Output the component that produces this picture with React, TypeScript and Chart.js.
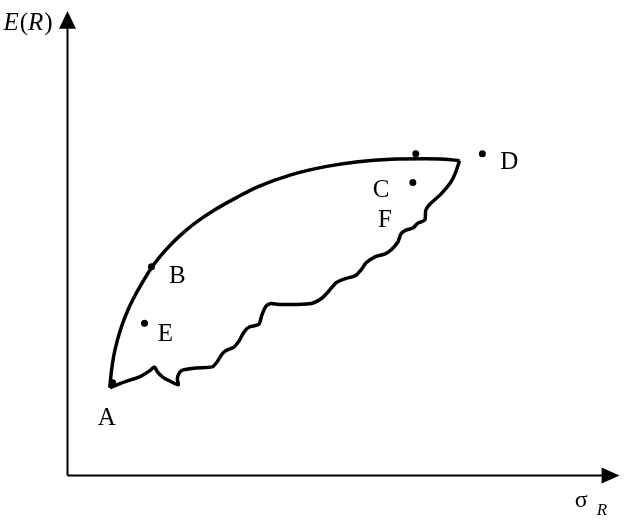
import React, { useEffect, useRef } from "react";
import { Chart, registerables } from "chart.js";

Chart.register(...registerables);

// Coordinates in chart units (sigma_R to the right, E(R) upward)
const upperX = [42.5, 44, 46.5, 50.5, 55.5, 61.5, 68.5, 76.5, 84.5, 94.5, 106.5, 119.5, 132.5, 147.5, 170.5, 192.5, 225.5, 259.5, 292.5, 325.5, 359.5, 379.5, 394.5];
const upperY = [88.5, 103.5, 120.5, 137.5, 153.5, 168.5, 182.5, 196.5, 209.5, 222.5, 235.5, 247.5, 257.5, 267.5, 280.5, 291.5, 303.5, 311.5, 316.5, 319, 319.5, 319, 317.5];

const lowerX = [42.5, 57.5, 72.5, 82.5, 87.5, 90.5, 95.5, 104.5, 111.5, 110.5, 112.5, 116.5, 129.5, 145.5, 150.5, 155.5, 160.5, 167.5, 172.5, 177.5, 182.5, 192.5, 195.5, 199.5, 204.5, 212.5, 227.5, 245.5, 255.5, 262.5, 270.5, 279.5, 289.5, 295.5, 300.5, 309.5, 319.5, 325.5, 332.5, 335.5, 340.5, 347.5, 352.5, 359.5, 360.5, 364.5, 375.5, 385.5, 390.5, 394.5];
const lowerY = [88.5, 94.5, 99.5, 105.5, 109.5, 104.5, 99.5, 94.5, 91.5, 97.5, 103.5, 106.5, 108.5, 109.5, 114.5, 122.5, 126.5, 129.5, 135.5, 144.5, 149.5, 152.5, 161.5, 170.5, 173.5, 172.5, 172.5, 173.5, 178.5, 185.5, 194.5, 198.5, 201.5, 207.5, 214.5, 220.5, 223.5, 227.5, 235.5, 243.5, 247.5, 249.5, 254.5, 257.5, 267.5, 273.5, 283.5, 295.5, 305.5, 317.5];

const dotX = [45.5, 84.5, 77.5, 347.5, 350.5, 417.5];
const dotY = [93.5, 210.5, 153.5, 295.5, 324.5, 324.5];

const labelNames = ["A", "B", "E", "C", "F", "D"];
const labelX = [39.5, 110.5, 98.5, 315.5, 319.5, 444.5];
const labelY = [57.5, 200.5, 142.5, 287.5, 257.5, 315.5];

const yAxisEnd = 450.5;
const yArrowTip = 468.5;
const xAxisEnd = 537.5;
const xArrowTip = 555.5;

const toPts = (xs: number[], ys: number[]) => xs.map((v, i) => ({ x: v, y: ys[i] }));

const serif = '"Liberation Serif", "DejaVu Serif", serif';

const annotPlugin = {
  id: "annot",
  afterDatasetsDraw(chart: any) {
    const { ctx, scales } = chart;
    const x = scales.x;
    const y = scales.y;
    const px = (v: number) => x.getPixelForValue(v);
    const py = (v: number) => y.getPixelForValue(v);
    ctx.save();
    ctx.fillStyle = "#000";
    // y arrow
    ctx.beginPath();
    ctx.moveTo(px(0), py(yArrowTip));
    ctx.lineTo(px(0) - 8.5, py(yAxisEnd));
    ctx.lineTo(px(0) + 8.5, py(yAxisEnd));
    ctx.closePath();
    ctx.fill();
    // x arrow
    ctx.beginPath();
    ctx.moveTo(px(xArrowTip), py(0));
    ctx.lineTo(px(xAxisEnd), py(0) - 8);
    ctx.lineTo(px(xAxisEnd), py(0) + 8);
    ctx.closePath();
    ctx.fill();

    // point labels
    ctx.font = `25px ${serif}`;
    ctx.textAlign = "center";
    ctx.textBaseline = "middle";
    labelNames.forEach((n, i) => {
      ctx.fillText(n, px(labelX[i]), py(labelY[i]));
    });

    // y axis title E(R)
    ctx.textAlign = "left";
    ctx.textBaseline = "alphabetic";
    let cx = px(-64.5);
    const by = py(449.5);
    const parts: [string, boolean][] = [["E", true], ["(", false], ["R", true], [")", false]];
    parts.forEach(([t, it]) => {
      ctx.font = `${it ? "italic " : ""}25px ${serif}`;
      ctx.fillText(t, cx, by);
      cx += ctx.measureText(t).width + (it ? 1 : 0);
    });

    // x axis title sigma_R
    ctx.font = `24px ${serif}`;
    ctx.fillText("σ", px(510.5), py(-31.5));
    ctx.font = `italic 17px ${serif}`;
    ctx.fillText("R", px(532.5), py(-39.5));
    ctx.restore();
  },
};

export default function App() {
  const ref = useRef<HTMLCanvasElement | null>(null);
  useEffect(() => {
    if (!ref.current) return;
    const chart = new Chart(ref.current, {
      type: "scatter",
      data: {
        datasets: [
          {
            data: [{ x: 0, y: 0 }, { x: 0, y: yAxisEnd + 2 }],
            showLine: true,
            borderColor: "#000",
            borderWidth: 2,
            pointRadius: 0,
            clip: false,
          } as any,
          {
            data: [{ x: 0, y: 0 }, { x: xAxisEnd + 2, y: 0 }],
            showLine: true,
            borderColor: "#000",
            borderWidth: 2,
            pointRadius: 0,
            clip: false,
          },
          {
            data: toPts(upperX, upperY),
            showLine: true,
            borderColor: "#000",
            borderWidth: 3.5,
            pointRadius: 0,
            cubicInterpolationMode: "monotone",
            clip: false,
          },
          {
            data: toPts(lowerX, lowerY),
            showLine: true,
            borderColor: "#000",
            borderWidth: 3.5,
            pointRadius: 0,
            tension: 0.25,
            borderJoinStyle: "round",
            clip: false,
          },
          {
            data: toPts(dotX, dotY),
            showLine: false,
            backgroundColor: "#000",
            borderColor: "#000",
            pointRadius: 3.5,
            borderWidth: 0,
            clip: false,
          },
        ],
      },
      options: {
        animation: false,
        responsive: false,
        devicePixelRatio: 1,
        layout: { padding: { left: 67.5, right: 0.5, top: 0, bottom: 51.5 } },
        scales: {
          x: { type: "linear", min: 0, max: 560, display: false },
          y: { type: "linear", min: 0, max: 475.5, display: false },
        },
        plugins: { legend: { display: false }, tooltip: { enabled: false } },
        events: [],
      },
      plugins: [annotPlugin],
    });
    return () => chart.destroy();
  }, []);
  return (
    <div style={{ position: "absolute", left: 0, top: 0, width: 628, height: 527, background: "#fff" }}>
      <canvas ref={ref} width={628} height={527} style={{ display: "block" }} />
    </div>
  );
}
